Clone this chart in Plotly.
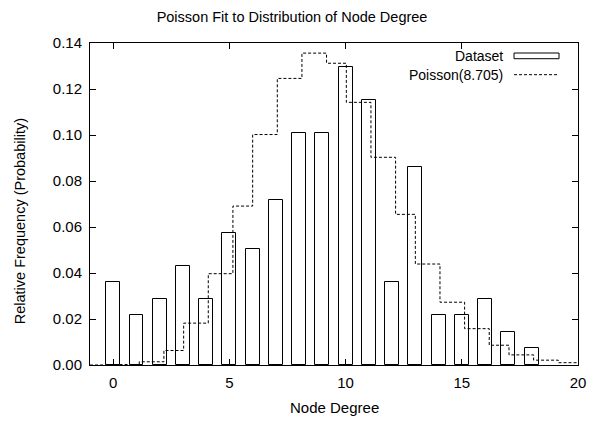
import plotly.graph_objects as go

# Node degree histogram (relative frequency)
degrees = list(range(0, 19))
rel_freq = [0.0360, 0.0216, 0.0288, 0.0432, 0.0288, 0.0576, 0.0504, 0.0719, 0.1007, 0.1007,
            0.1295, 0.1151, 0.0360, 0.0863, 0.0216, 0.0216, 0.0288, 0.0144, 0.0072]

# Poisson(8.705) step curve: step start positions and levels
poisson_x = [-1.0, 0.06, 1.12, 2.18, 3.03, 4.09, 5.15, 6.0, 7.06, 8.12, 9.18,
             10.03, 11.09, 12.15, 13.0, 14.06, 15.12, 16.18, 17.03, 18.09, 19.15, 20.0]
poisson_y = [0.0, 0.0002, 0.0014, 0.0063, 0.0182, 0.0397, 0.0691, 0.1002, 0.1246, 0.1356, 0.1312,
             0.1142, 0.0903, 0.0655, 0.0439, 0.0273, 0.0158, 0.0086, 0.0044, 0.0021, 0.0010, 0.0010]

x_ticks = [0, 5, 10, 15, 20]
y_ticks = [0.00, 0.02, 0.04, 0.06, 0.08, 0.10, 0.12, 0.14]

FONT = "Liberation Sans, Arial, Helvetica, sans-serif"

fig = go.Figure()
fig.add_trace(go.Bar(
    x=degrees, y=rel_freq, width=0.6, name="Dataset",
    marker=dict(color="rgba(255,255,255,0)", line=dict(color="black", width=1)),
    showlegend=False,
))
fig.add_trace(go.Scatter(
    x=poisson_x, y=poisson_y, mode="lines", name="Poisson(8.705)",
    line=dict(color="black", width=1, dash="3px,2px", shape="hv"),
    showlegend=False,
))

# Legend (gnuplot style: text right-aligned, key sample to the right)
fig.add_annotation(xref="paper", yref="paper", x=0.8500, y=0.9596, text="Dataset",
                   showarrow=False, xanchor="right", yanchor="middle",
                   font=dict(family=FONT, size=14, color="black"))
fig.add_annotation(xref="paper", yref="paper", x=0.8500, y=0.9016, text="Poisson(8.705)",
                   showarrow=False, xanchor="right", yanchor="middle",
                   font=dict(family=FONT, size=14, color="black"))
fig.add_shape(type="rect", xref="paper", yref="paper", x0=0.8689, x1=0.9611, y0=0.9512, y1=0.9689,
              line=dict(color="black", width=1), fillcolor="rgba(0,0,0,0)")
fig.add_shape(type="line", xref="paper", yref="paper", x0=0.8689, x1=0.9611, y0=0.9016, y1=0.9016,
              line=dict(color="black", width=1, dash="3px,2px"))

# Axis labels (placed as in the gnuplot original)
fig.add_annotation(xref="paper", yref="paper", x=-0.143, y=0.447, text="Relative Frequency (Probability)",
                   showarrow=False, textangle=-90, xanchor="center", yanchor="middle",
                   font=dict(family=FONT, size=14.5, color="black"))
fig.add_annotation(xref="paper", yref="paper", x=0.5, y=-0.1335, text="Node Degree",
                   showarrow=False, xanchor="center", yanchor="middle",
                   font=dict(family=FONT, size=15, color="black"))

fig.update_layout(
    width=596, height=422,
    margin=dict(l=90, r=18, t=43, b=57),
    paper_bgcolor="white", plot_bgcolor="white",
    font=dict(family=FONT, size=14, color="black"),
    title=dict(text="Poisson Fit to Distribution of Node Degree", x=0.49, xref="container",
               xanchor="center", y=1 - 17 / 422, yref="container", yanchor="middle",
               font=dict(family=FONT, size=14.5, color="black")),
    bargap=0,
)
fig.update_xaxes(
    range=[-1, 20], tickvals=x_ticks, ticks="inside", ticklen=6, tickcolor="black",
    tickfont=dict(family=FONT, size=15, color="black"), automargin=False,
    showline=True, linecolor="black", linewidth=1, mirror="ticks", showgrid=False, zeroline=False,
    ticklabelstandoff=4,
)
fig.update_yaxes(
    range=[0, 0.14], tickvals=y_ticks, tickformat=".2f", ticks="inside", ticklen=6, tickcolor="black",
    tickfont=dict(family=FONT, size=15, color="black"), automargin=False,
    showline=True, linecolor="black", linewidth=1, mirror="ticks", showgrid=False, zeroline=False,
    ticklabelstandoff=4,
)

fig.write_html("out.html", config={"displayModeBar": False},
               post_script="document.body.style.margin='0';")
